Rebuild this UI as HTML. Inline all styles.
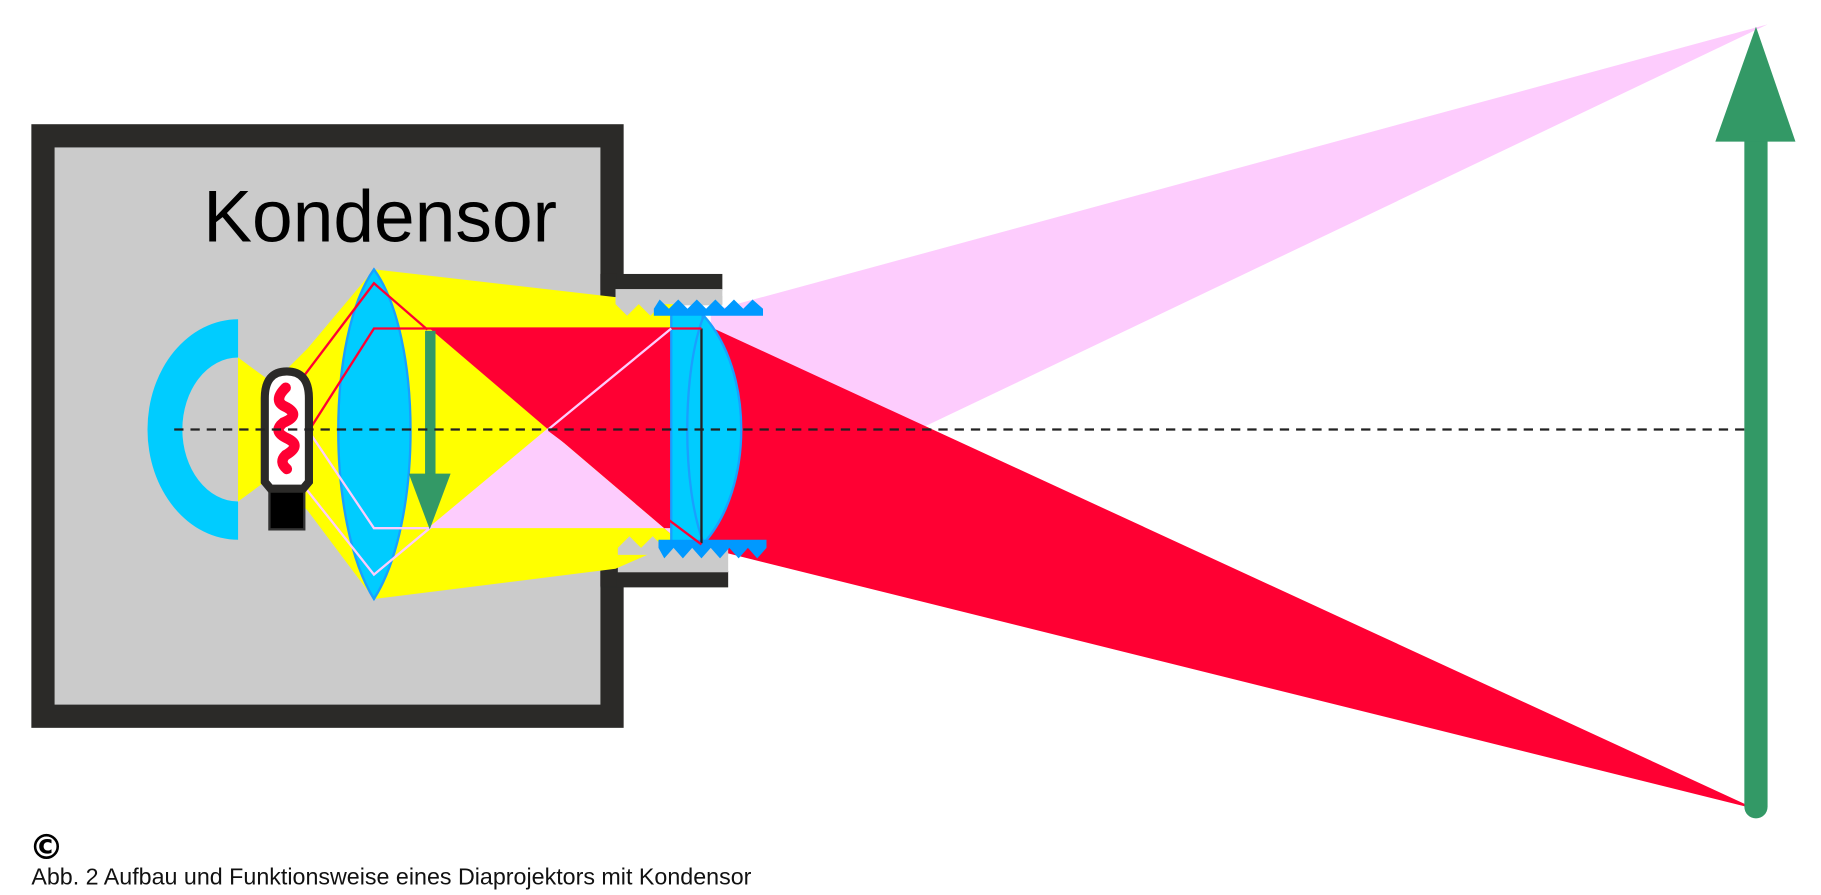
<!DOCTYPE html>
<html><head><meta charset="utf-8"><style>
html,body{margin:0;padding:0;background:#fff;}
svg{display:block}
</style></head><body>
<svg width="1821" height="895" viewBox="0 0 1568 771" preserveAspectRatio="none" xmlns="http://www.w3.org/2000/svg">
<rect x="27" y="107" width="510" height="520" fill="#2b2a28"/>
<rect x="47" y="127" width="470" height="480" fill="#cbcbcb"/>
<rect x="517" y="250" width="20" height="238" fill="#cbcbcb"/>
<rect x="517" y="236" width="105" height="14" fill="#2b2a28"/>
<rect x="517" y="236" width="14" height="20" fill="#2b2a28"/>
<rect x="530" y="249" width="92" height="14" fill="#cbcbcb"/>
<rect x="517" y="492" width="110" height="14" fill="#2b2a28"/>
<rect x="517" y="485" width="14" height="20" fill="#2b2a28"/>
<rect x="532" y="472" width="95" height="21" fill="#cbcbcb"/>
<polygon points="612,268 1522,21 795,368 612,292" fill="#fdccfd"/>
<polygon points="608,280 1512,697 608,472" fill="#ff0033"/>
<polygon points="205,308 235,330 265,300 322,232 530,256 580,262 580,468 530,490 322,516 265,440 235,410 205,432" fill="#ffff00"/>
<polygon points="205,308 230,336 230,404 205,432" fill="#ffff00"/>
<polygon points="370,283 580,283 580,462 472,370" fill="#ff0033"/>
<polygon points="370,455 472,370 580,462 580,455" fill="#fdccfd"/>
<path d="M530,262 L540,272 L550,262 L560,272 L570,262 L622,262 L622,255 L530,255 Z" fill="#cbcbcb"/>
<path d="M532,472 L542,462 L552,472 L562,462 L572,472 L627,472 L627,478 L532,478 Z" fill="#cbcbcb"/>
<path d="M205,275 A78,95 0 0 0 205,465 L205,432 A48,62 0 0 1 205,308 Z" fill="#00ccff"/>
<path d="M322,232 C364,290 364,450 322,516 C281,450 281,290 322,232 Z" fill="#00ccff" stroke="#1a9fff" stroke-width="2"/>
<rect x="578" y="270" width="27" height="198" fill="#00ccff" stroke="#1a9fff" stroke-width="2"/>
<path d="M606,272 C649,320 649,420 606,468 C587,420 587,320 606,272 Z" fill="#00ccff" stroke="#1a9fff" stroke-width="2"/>
<path d="M563,272 L657,272 L657,266 L648,258 L640,266 L632,258 L624,266 L616,258 L608,266 L600,258 L592,266 L584,258 L576,266 L568,258 L563,266 Z" fill="#0099ff"/>
<path d="M567,465 L660,465 L660,472 L652,481 L644,472 L636,481 L628,472 L620,481 L612,472 L604,481 L596,472 L588,481 L580,472 L572,481 L567,472 Z" fill="#0099ff"/>
<line x1="604" y1="283" x2="604" y2="468" stroke="#222" stroke-width="2"/>
<polyline points="248,342 322,244 368,284" fill="none" stroke="#ff0033" stroke-width="2"/>
<polyline points="250,396 322,283 604,283" fill="none" stroke="#ff0033" stroke-width="2"/>
<line x1="472" y1="370" x2="604" y2="469" stroke="#ff0033" stroke-width="2"/>
<polyline points="242,336 322,455 370,455" fill="none" stroke="#fdccfd" stroke-width="2"/>
<polyline points="250,404 322,495 370,455 472,370 578,283" fill="none" stroke="#fdccfd" stroke-width="2"/>
<rect x="232" y="422" width="30" height="34" fill="#000" stroke="#333" stroke-width="2"/>
<path d="M228,343 Q228,320 247,320 Q266,320 266,343 L266,415 L261,421 L233,421 L228,415 Z" fill="#fff" stroke="#2b2a28" stroke-width="7"/>
<path d="M246,334 Q234,346 247,351 Q259,358 244,364 Q234,372 248,378 Q260,384 246,392 Q240,398 247,404" fill="none" stroke="#ff0033" stroke-width="9" stroke-linecap="round"/>
<rect x="366" y="285" width="9" height="125" fill="#339966"/>
<polygon points="352,408 388,408 370,456" fill="#339966"/>
<line x1="150" y1="370" x2="1510" y2="370" stroke="#222" stroke-width="2" stroke-dasharray="8,6"/>
<line x1="1512" y1="118" x2="1512" y2="695" stroke="#339966" stroke-width="20" stroke-linecap="round"/>
<polygon points="1477,122 1546,122 1512,23" fill="#339966"/>
<text x="175" y="208" font-family="Liberation Sans, sans-serif" font-size="63" fill="#000">Kondensor</text>
<text x="25" y="740" font-family="DejaVu Sans, sans-serif" font-size="30" font-weight="bold" fill="#000">©</text>
<text x="27" y="762" font-family="Liberation Sans Narrow, Liberation Sans, sans-serif" font-size="20" fill="#111" textLength="620" lengthAdjust="spacingAndGlyphs">Abb. 2 Aufbau und Funktionsweise eines Diaprojektors mit Kondensor</text>
</svg>
</body></html>
